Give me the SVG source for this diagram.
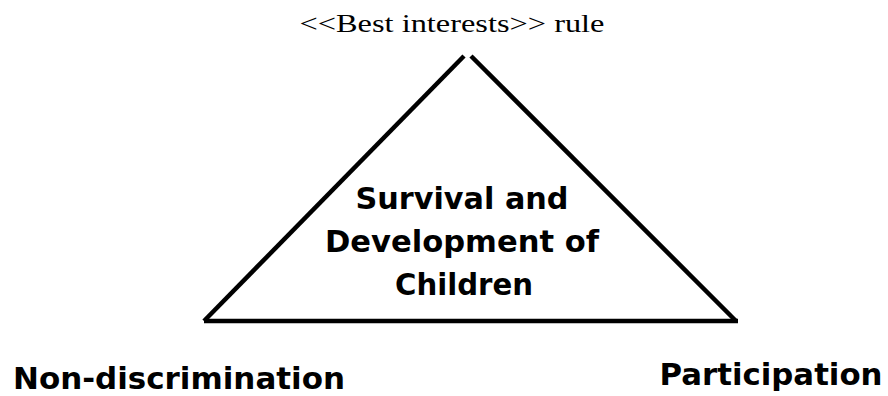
<svg xmlns="http://www.w3.org/2000/svg" width="888" height="396" viewBox="0 0 888 396">
<style>
.edge{stroke:#000;stroke-width:4.5;fill:none;stroke-linecap:butt}
.lbl{font-family:"DejaVu Sans",Verdana,sans-serif;font-weight:bold;font-size:30px;fill:#000}
.top{font-family:"Liberation Serif","Times New Roman",serif;font-size:26px;fill:#000}
</style>
<rect width="888" height="396" fill="#fff"/>
<g id="connectors">
<line class="edge" x1="204" y1="321" x2="464" y2="56"/>
<line class="edge" x1="471" y1="56" x2="736" y2="321"/>
<line class="edge" x1="204" y1="321" x2="738" y2="321"/>
</g>
<g id="node-best-interests"><text class="top" x="452" y="32" text-anchor="middle" textLength="305" lengthAdjust="spacingAndGlyphs">&lt;&lt;Best interests&gt;&gt; rule</text></g>
<g id="node-survival">
<text class="lbl" x="462" y="209" text-anchor="middle" textLength="213" lengthAdjust="spacingAndGlyphs">Survival and</text>
<text class="lbl" x="462" y="252" text-anchor="middle" textLength="274" lengthAdjust="spacingAndGlyphs">Development of</text>
<text class="lbl" x="464" y="295" text-anchor="middle" textLength="138" lengthAdjust="spacingAndGlyphs">Children</text>
</g>
<g id="node-nondiscrimination"><text class="lbl" x="179" y="389" text-anchor="middle" textLength="332" lengthAdjust="spacingAndGlyphs">Non-discrimination</text></g>
<g id="node-participation"><text class="lbl" x="771" y="385" text-anchor="middle" textLength="223" lengthAdjust="spacingAndGlyphs">Participation</text></g>
</svg>
